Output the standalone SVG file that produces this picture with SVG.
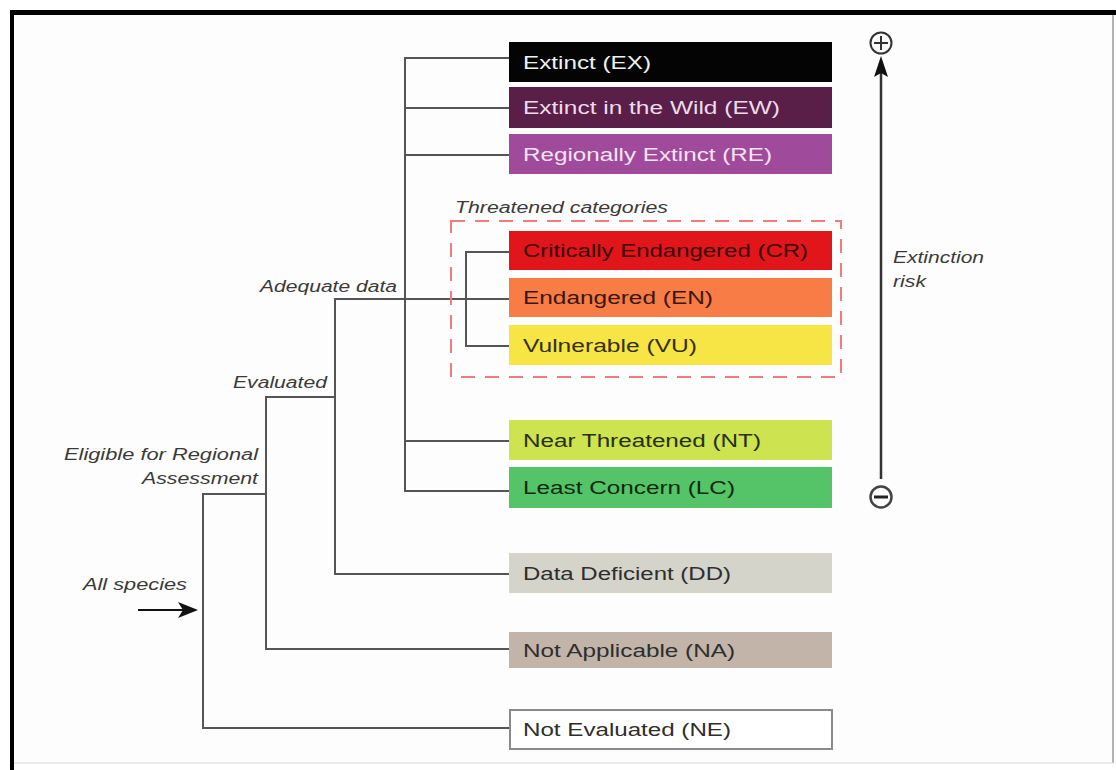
<svg xmlns="http://www.w3.org/2000/svg" width="1116" height="770" viewBox="0 0 1116 770">
  <style>
    .lbl { font-family: "Liberation Sans", Arial, sans-serif; font-size: 17.5px; }
    .it { font-family: "Liberation Sans", Arial, sans-serif; font-size: 16px; font-style: italic; fill: #3a3a3a; }
    .conn { fill: none; stroke: #555; stroke-width: 2; }
    .dark { fill: #2e2e2e; }
    .head { fill: #111; }
  </style>

  <!-- frame -->
  <rect x="0" y="0" width="1116" height="770" fill="#ffffff"/>
  <rect x="12" y="12" width="1101" height="751" fill="#fdfdfd" stroke="none"/>
  <line x1="1113" y1="12" x2="1113" y2="763" stroke="#999" stroke-width="1.5"/>
  <line x1="12" y1="763" x2="1113" y2="763" stroke="#e4e4e4" stroke-width="1.5"/>
  <line x1="10" y1="12.5" x2="1116" y2="12.5" stroke="#000" stroke-width="5"/>
  <line x1="12" y1="10" x2="12" y2="770" stroke="#000" stroke-width="4"/>

  <!-- connectors -->
  <g id="connectors">
    <path class="conn" d="M266,494 H203 V728 H509"/>
    <path class="conn" d="M335,397 H266 V649 H509"/>
    <path class="conn" d="M509,299 H335 V574 H509"/>
    <path class="conn" d="M509,58 H405 V491 H509"/>
    <path class="conn" d="M405,108 H509 M405,155 H509 M405,441 H509"/>
    <path class="conn" d="M509,252 H466 V346 H509"/>
    <line x1="138" y1="610" x2="186" y2="610" stroke="#111" stroke-width="2"/>
    <path class="head" d="M198,610 L178,602 L183,610 L178,618 Z"/>
    <line x1="881" y1="479" x2="881" y2="66" stroke="#333" stroke-width="2.5"/>
    <path class="head" d="M881,56 L888,77 L881,73 L874,77 Z"/>
  </g>

  <!-- threatened group -->
  <g id="threatened">
    <rect x="451" y="221" width="390" height="156" fill="none" stroke="#ef7b7b" stroke-width="2" stroke-dasharray="14 10"/>
    <text class="it" x="455" y="213" textLength="213" lengthAdjust="spacingAndGlyphs">Threatened categories</text>
  </g>

  <g id="EX"><rect x="509" y="42" width="323" height="40" fill="#040404"/>
    <text class="lbl" x="523" y="68.5" fill="#f0f0f0" textLength="128" lengthAdjust="spacingAndGlyphs">Extinct (EX)</text></g>
  <g id="EW"><rect x="509" y="87" width="323" height="41" fill="#5a1f48"/>
    <text class="lbl" x="523" y="114" fill="#ecdcea" textLength="257" lengthAdjust="spacingAndGlyphs">Extinct in the Wild (EW)</text></g>
  <g id="RE"><rect x="509" y="134" width="323" height="40" fill="#a04a9c"/>
    <text class="lbl" x="523" y="160.5" fill="#f4e4f2" textLength="249" lengthAdjust="spacingAndGlyphs">Regionally Extinct (RE)</text></g>
  <g id="CR"><rect x="509" y="231" width="323" height="39" fill="#e0161a"/>
    <text class="lbl" x="523" y="257" fill="#3a0606" textLength="285" lengthAdjust="spacingAndGlyphs">Critically Endangered (CR)</text></g>
  <g id="EN"><rect x="509" y="278" width="323" height="39" fill="#f87c46"/>
    <text class="lbl" x="523" y="304" fill="#3a160a" textLength="190" lengthAdjust="spacingAndGlyphs">Endangered (EN)</text></g>
  <g id="VU"><rect x="509" y="325" width="323" height="40" fill="#f7e445"/>
    <text class="lbl" x="523" y="351.5" fill="#33300a" textLength="174" lengthAdjust="spacingAndGlyphs">Vulnerable (VU)</text></g>
  <g id="NT"><rect x="509" y="420" width="323" height="40" fill="#cde34f"/>
    <text class="lbl" x="523" y="447" fill="#26300a" textLength="238" lengthAdjust="spacingAndGlyphs">Near Threatened (NT)</text></g>
  <g id="LC"><rect x="509" y="467" width="323" height="41" fill="#55c468"/>
    <text class="lbl" x="523" y="494" fill="#0c2a10" textLength="212" lengthAdjust="spacingAndGlyphs">Least Concern (LC)</text></g>
  <g id="DD"><rect x="509" y="553" width="323" height="40" fill="#d4d4ca"/>
    <text class="lbl dark" x="523" y="580" textLength="208" lengthAdjust="spacingAndGlyphs">Data Deficient (DD)</text></g>
  <g id="NA"><rect x="509" y="632" width="323" height="36" fill="#c2b4a8"/>
    <text class="lbl dark" x="523" y="656.5" textLength="212" lengthAdjust="spacingAndGlyphs">Not Applicable (NA)</text></g>
  <g id="NE"><rect x="510" y="710" width="322" height="39" fill="#ffffff" stroke="#8a8a8a" stroke-width="2"/>
    <text class="lbl dark" x="523" y="736" textLength="208" lengthAdjust="spacingAndGlyphs">Not Evaluated (NE)</text></g>

  <!-- branch labels -->
  <g id="labels">
    <text class="it" x="260" y="292" textLength="137" lengthAdjust="spacingAndGlyphs">Adequate data</text>
    <text class="it" x="233" y="388" textLength="94" lengthAdjust="spacingAndGlyphs">Evaluated</text>
    <text class="it" x="64" y="460" textLength="194" lengthAdjust="spacingAndGlyphs">Eligible for Regional</text>
    <text class="it" x="142" y="484" textLength="116" lengthAdjust="spacingAndGlyphs">Assessment</text>
    <text class="it" x="83" y="590" textLength="104" lengthAdjust="spacingAndGlyphs">All species</text>
    <text class="it" x="893" y="263" textLength="91" lengthAdjust="spacingAndGlyphs">Extinction</text>
    <text class="it" x="893" y="287" textLength="33" lengthAdjust="spacingAndGlyphs">risk</text>
  </g>

  <!-- risk scale symbols -->
  <g id="plus">
    <circle cx="881" cy="43" r="10.5" fill="none" stroke="#333" stroke-width="2"/>
    <path d="M874,43 H888 M881,36 V50" stroke="#333" stroke-width="2"/>
  </g>
  <g id="minus">
    <circle cx="881" cy="497" r="10.5" fill="none" stroke="#444" stroke-width="2.5"/>
    <path d="M874,497 H888" stroke="#222" stroke-width="3"/>
  </g>
</svg>
